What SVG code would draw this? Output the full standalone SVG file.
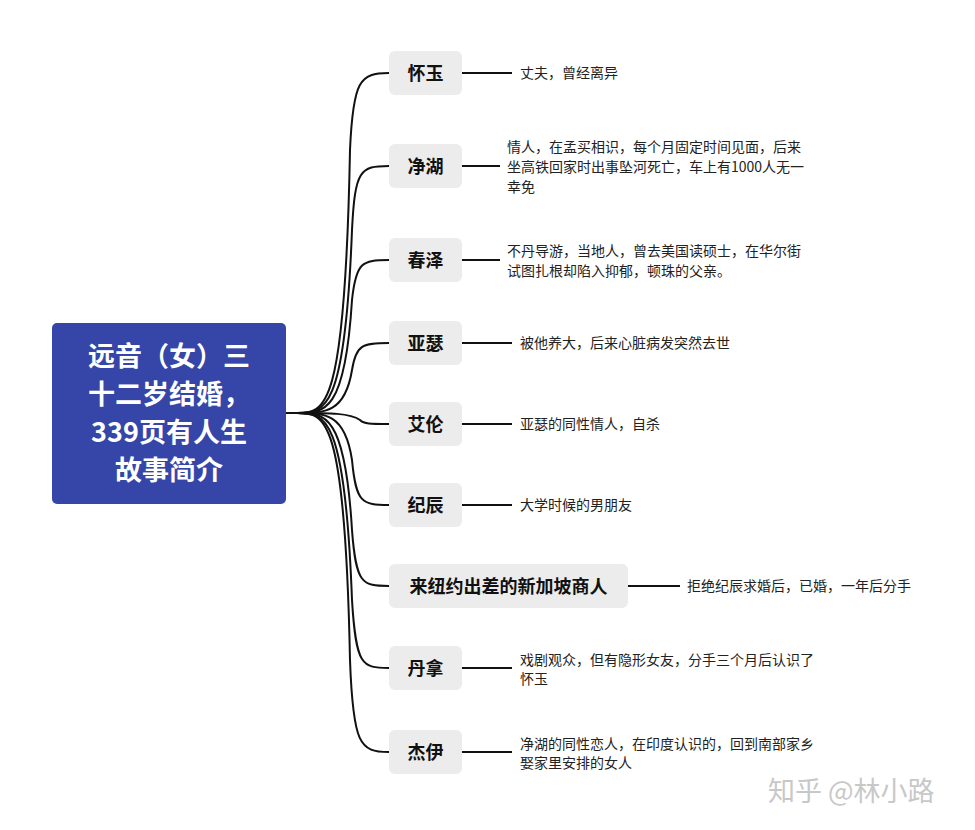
<svg xmlns="http://www.w3.org/2000/svg" width="975" height="830" viewBox="0 0 975 830">
<style>
.n{fill:#ececec}
.nt{font-family:"Noto Sans CJK SC",sans-serif;font-size:18px;font-weight:bold;fill:#111;text-anchor:middle}
.d{font-family:"Noto Sans CJK SC",sans-serif;font-size:14px;fill:#222}
.c path{fill:none;stroke:#111;stroke-width:2}
</style>
<rect width="975" height="830" fill="#fff"/>
<g class="c">
<path d="M286 413H297"/>
<path d="M297 413C325 413 345 413 350 150C353 80 360 73 389 73"/>
<path d="M297 413C325 413 345 413 352 230C355 170 360 166 389 166"/>
<path d="M297 413C325 413 345 413 352 300C356 262 362 260 389 260"/>
<path d="M297 413C325 413 345 413 352 370C356 345 362 343 389 343"/>
<path d="M297 413C330 413 350 413 360 420C364 424 370 424 389 424"/>
<path d="M297 413C325 413 345 413 352 460C356 503 362 505 389 505"/>
<path d="M297 413C325 413 345 413 352 530C356 584 362 586 389 586"/>
<path d="M297 413C325 413 345 413 352 600C356 666 362 668 389 668"/>
<path d="M297 413C325 413 345 413 350 660C353 745 360 752 389 752"/>
<path d="M462 73H512M462 166H500M462 260H500M462 343H512M462 424H512M462 505H512M628 586H680M462 668H512M462 752H512"/>
</g>
<g id="root"><rect x="52" y="323" width="234" height="181" rx="5" fill="#3546a8"/>
<g font-family="Noto Sans CJK SC,sans-serif" font-size="27" font-weight="bold" fill="#fff" text-anchor="middle">
<text x="169" y="366">远音（女）三</text><text x="169" y="404">十二岁结婚，</text><text x="169" y="442">339页有人生</text><text x="169" y="480">故事简介</text></g></g>
<g id="n1"><rect class="n" x="389" y="51" width="73" height="44" rx="6"/><text class="nt" x="425.5" y="80">怀玉</text><text class="d" x="520" y="78">丈夫，曾经离异</text></g>
<g id="n2"><rect class="n" x="389" y="144" width="73" height="44" rx="6"/><text class="nt" x="425.5" y="173">净湖</text><text class="d" x="507" y="152">情人，在孟买相识，每个月固定时间见面，后来</text><text class="d" x="507" y="172">坐高铁回家时出事坠河死亡，车上有1000人无一</text><text class="d" x="507" y="192">幸免</text></g>
<g id="n3"><rect class="n" x="389" y="238" width="73" height="44" rx="6"/><text class="nt" x="425.5" y="267">春泽</text><text class="d" x="507" y="256">不丹导游，当地人，曾去美国读硕士，在华尔街</text><text class="d" x="507" y="276">试图扎根却陷入抑郁，顿珠的父亲。</text></g>
<g id="n4"><rect class="n" x="389" y="321" width="73" height="44" rx="6"/><text class="nt" x="425.5" y="350">亚瑟</text><text class="d" x="520" y="348">被他养大，后来心脏病发突然去世</text></g>
<g id="n5"><rect class="n" x="389" y="402" width="73" height="44" rx="6"/><text class="nt" x="425.5" y="431">艾伦</text><text class="d" x="520" y="429">亚瑟的同性情人，自杀</text></g>
<g id="n6"><rect class="n" x="389" y="483" width="73" height="44" rx="6"/><text class="nt" x="425.5" y="512">纪辰</text><text class="d" x="520" y="510">大学时候的男朋友</text></g>
<g id="n7"><rect class="n" x="389" y="564" width="239" height="44" rx="6"/><text class="nt" x="508.5" y="593">来纽约出差的新加坡商人</text><text class="d" x="687" y="591">拒绝纪辰求婚后，已婚，一年后分手</text></g>
<g id="n8"><rect class="n" x="389" y="646" width="73" height="44" rx="6"/><text class="nt" x="425.5" y="675">丹拿</text><text class="d" x="520" y="665">戏剧观众，但有隐形女友，分手三个月后认识了</text><text class="d" x="520" y="684">怀玉</text></g>
<g id="n9"><rect class="n" x="389" y="730" width="73" height="44" rx="6"/><text class="nt" x="425.5" y="759">杰伊</text><text class="d" x="520" y="749">净湖的同性恋人，在印度认识的，回到南部家乡</text><text class="d" x="520" y="768">娶家里安排的女人</text></g>
<text x="768" y="801" font-family="Noto Sans CJK SC,sans-serif" font-size="27" fill="#c8c8c8">知乎 @林小路</text>
</svg>
